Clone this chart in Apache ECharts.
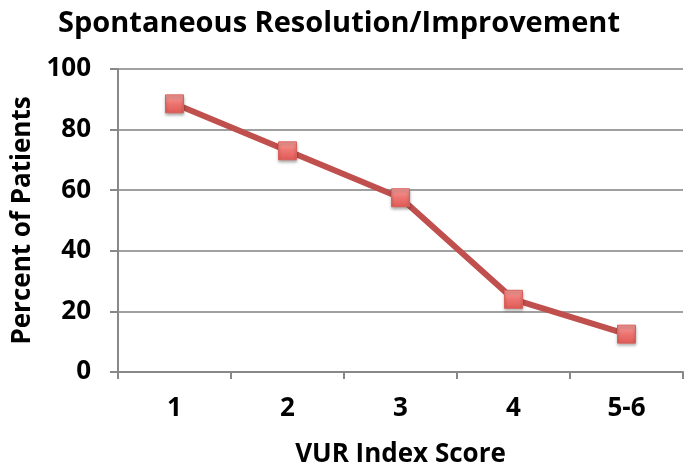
<!DOCTYPE html>
<html>
<head>
<meta charset="utf-8">
<script src="https://cdn.jsdelivr.net/npm/echarts@6/dist/echarts.min.js"></script>
<style>
  html, body { margin: 0; padding: 0; background: #fff; }
  #chart { width: 686px; height: 467px; }
</style>
</head>
<body>
<div id="chart"></div>
<script>
const categories = ["1", "2", "3", "4", "5-6"];
const percentValues = [88.5, 73, 57.5, 24, 12.5];

const font = "'Open Sans', 'Liberation Sans', sans-serif";

const chart = echarts.init(document.getElementById("chart"));
chart.setOption({
  animation: false,
  title: {
    text: "Spontaneous Resolution/Improvement",
    left: 334,
    textAlign: "center",
    top: 4,
    textStyle: { fontFamily: font, fontSize: 29, fontWeight: "bold", color: "#000" },
  },
  grid: { left: 118, right: 3, top: 69, bottom: 95, outerBoundsMode: "none", containLabel: false },
  xAxis: {
    type: "category",
    data: categories,
    boundaryGap: true,
    name: "VUR Index Score",
    nameLocation: "middle",
    nameGap: 70,
    nameTextStyle: { fontFamily: font, fontSize: 26, fontWeight: "bold", color: "#000" },
    axisLine: { lineStyle: { color: "#888", width: 2 } },
    axisTick: { show: true, length: 7, lineStyle: { color: "#888", width: 2 } },
    axisLabel: { margin: 24, fontFamily: font, fontSize: 26, fontWeight: "bold", color: "#000" },
  },
  yAxis: {
    type: "value",
    min: 0,
    max: 100,
    interval: 20,
    name: "Percent of Patients",
    nameLocation: "middle",
    nameGap: 72,
    nameTextStyle: { fontFamily: font, fontSize: 26, fontWeight: "bold", color: "#000" },
    axisLine: { show: true, lineStyle: { color: "#888", width: 2 } },
    axisTick: { show: true, length: 8, lineStyle: { color: "#888", width: 2 } },
    axisLabel: { margin: 27, fontFamily: font, fontSize: 26, fontWeight: "bold", color: "#000" },
    splitLine: { lineStyle: { color: "#a0a0a0", width: 2 } },
  },
  series: [
    {
      type: "line",
      data: percentValues,
      symbol: "rect",
      symbolSize: 18,
      lineStyle: { color: "#c0504d", width: 6 },
      itemStyle: {
        color: new echarts.graphic.LinearGradient(0, 0, 0, 1, [
          { offset: 0, color: "#f4a09d" },
          { offset: 0.5, color: "#ec7470" },
          { offset: 1, color: "#e05a56" },
        ]),
        borderColor: "#d9605c",
        borderWidth: 1,
        shadowColor: "rgba(0,0,0,0.35)",
        shadowBlur: 3,
        shadowOffsetY: 2,
      },
    },
  ],
});
</script>
</body>
</html>
